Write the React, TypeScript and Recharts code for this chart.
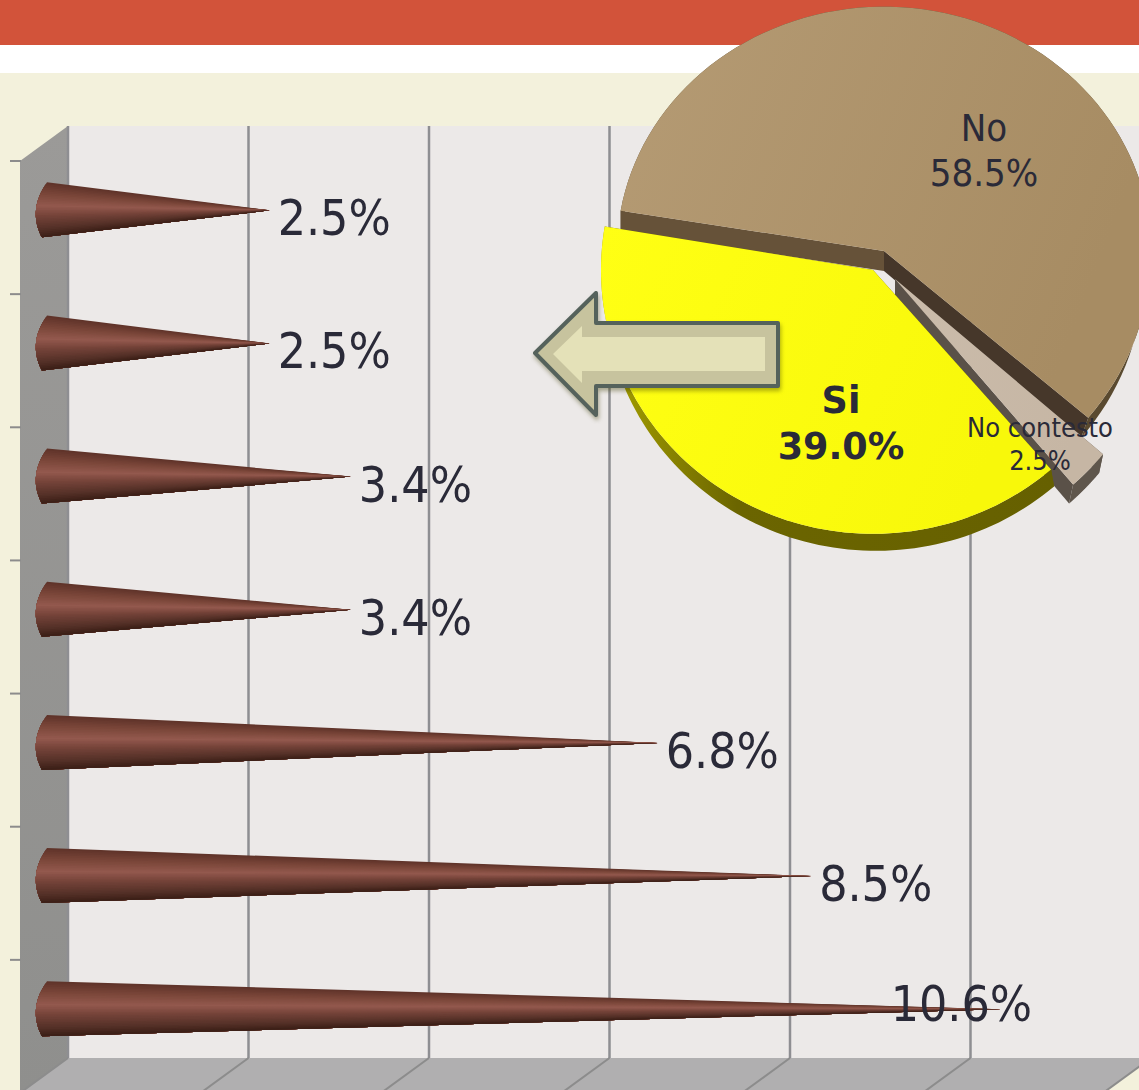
import React from 'react';
import { Bar, BarChart, CartesianGrid, LabelList, Pie, PieChart, XAxis, YAxis } from 'recharts';

const WIDTH = 1139;
const HEIGHT = 1090;
const FONT = '"DejaVu Sans Condensed", "DejaVu Sans", sans-serif';
const BOLD_FONT = '"DejaVu Sans", sans-serif';
const INK = '#2a2a38';

// horizontal cones, top row first
const rowIds = ['r1', 'r2', 'r3', 'r4', 'r5', 'r6', 'r7'];
const rowValues = [2.5, 2.5, 3.4, 3.4, 6.8, 8.5, 10.6];
const axisTicks = [0, 2, 4, 6, 8, 10, 12];

// pie, clockwise from the upper left
const sliceNames = ['No', 'No contesto', 'Si'];
const sliceValues = [58.5, 2.5, 39.0];

const rows = rowIds.map((id, i) => ({ id, value: rowValues[i] }));
const slices = sliceNames.map((name, i) => ({ name, value: sliceValues[i] }));

// 3D offset between the back wall and the front edge of the floor
const DEPTH_X = 48;
const DEPTH_Y = 35;
const PLOT_TOP = 126;
const PLOT_BOTTOM = 1058;
const PLOT_LEFT = 68;
const PLOT_RIGHT = 1151;

const coneStops: [number, number[]][] = [
  [0, [94, 51, 41]],
  [0.2, [122, 70, 57]],
  [0.42, [147, 89, 78]],
  [0.6, [118, 68, 58]],
  [0.85, [84, 48, 39]],
  [1, [58, 30, 22]],
];

function coneColor(t: number) {
  for (let i = 1; i < coneStops.length; i++) {
    const [t0, c0] = coneStops[i - 1];
    const [t1, c1] = coneStops[i];
    if (t <= t1) {
      const k = (t - t0) / (t1 - t0);
      const c = c0.map((v, j) => Math.round(v + (c1[j] - v) * k));
      return `rgb(${c.join(',')})`;
    }
  }
  return 'rgb(58,30,22)';
}

// cone lying on its side: a fan of thin triangles so the highlight runs into the tip
function Cone(props: any) {
  const { x, y, width, height } = props;
  const cy = y + height / 2 + DEPTH_Y / 2;
  const baseX = x - DEPTH_X / 2;
  const tipX = baseX + width;
  const p0 = [baseX + 3, cy - 28];
  const pc = [baseX - 16.5, cy];
  const p1 = [baseX - 2, cy + 27];
  const steps = 32;
  const at = (t: number) => [
    (1 - t) * (1 - t) * p0[0] + 2 * t * (1 - t) * pc[0] + t * t * p1[0],
    (1 - t) * (1 - t) * p0[1] + 2 * t * (1 - t) * pc[1] + t * t * p1[1],
  ];
  const fan = [];
  // each wedge runs down to the bottom edge and the next one paints over it, which leaves no seams
  for (let i = 0; i < steps; i++) {
    const base = [];
    for (let j = i; j <= steps; j++) {
      const p = at(j / steps);
      base.push(`${p[0]},${p[1]}`);
    }
    fan.push(
      <polygon key={i} points={`${tipX},${cy} ${base.join(' ')}`} fill={coneColor((i + 0.5) / steps)} />
    );
  }
  return <g>{fan}</g>;
}

function RowLabel(props: any) {
  const { x, y, width, height, value } = props;
  const cy = y + height / 2 + DEPTH_Y / 2;
  const tipX = x - DEPTH_X / 2 + width;
  // the longest cone has no room on its right, so its label sits over the tip
  const isLongest = value === Math.max(...rowValues);
  return (
    <text
      x={isLongest ? tipX - 110 : tipX + 8}
      y={isLongest ? cy + 12 : cy + 25}
      fontFamily={FONT}
      fontSize={49.5}
      fill={INK}
    >
      {`${value.toFixed(1)}%`}
    </text>
  );
}

function FloorTick({ x }: any) {
  return (
    <line x1={x} y1={PLOT_BOTTOM} x2={x - DEPTH_X} y2={PLOT_BOTTOM + DEPTH_Y} stroke="#8c8c8c" strokeWidth={2} />
  );
}

function RowTick({ y }: any) {
  const band = (PLOT_BOTTOM - PLOT_TOP) / rowIds.length;
  const ty = y - band / 2 + DEPTH_Y;
  return <line x1={10} y1={ty} x2={21} y2={ty} stroke="#8c8c8c" strokeWidth={2} />;
}

type SliceStyle = {
  dx: number;
  dy: number;
  rx: number;
  up: number;
  down: number;
  wallDx: number;
  depth: number;
  top: string;
  topEnd: string;
  arc: string;
  startWall: string;
  endWall: string;
  labelX: number;
  labelY: number;
  labelGap: number;
  fontSize: number;
  bold?: boolean;
};

const sliceStyles: Record<string, SliceStyle> = {
  No: {
    dx: 4, dy: -14, rx: 267, up: 0.915, down: 0.97, wallDx: -7, depth: 20,
    top: '#b59b74', topEnd: '#a78c63', arc: '#5a4a30', startWall: '#665239', endWall: '#46372a',
    labelX: 984, labelY: 141, labelGap: 45, fontSize: 38,
  },
  'No contesto': {
    dx: 15, dy: 14, rx: 272, up: 1, down: 1, wallDx: -4, depth: 19,
    top: '#cbbcab', topEnd: '#c6b6a4', arc: '#5f564c', startWall: '#5f564c', endWall: '#5a5148',
    labelX: 1040, labelY: 437, labelGap: 33, fontSize: 27,
  },
  Si: {
    dx: -7, dy: 5, rx: 272, up: 0.97, down: 0.97, wallDx: 3, depth: 17,
    top: '#ffff14', topEnd: '#f8f80a', arc: 'url(#si-wall)', startWall: '#666000', endWall: '#666000',
    labelX: 841, labelY: 413, labelGap: 46, fontSize: 36.5, bold: true,
  },
};

// pie seen slightly from above; each slice pulled out on its own
function Slice3D(props: any) {
  const { cx, cy, startAngle, endAngle, name, payload } = props;
  const key = name ?? payload?.name;
  const s = sliceStyles[key];
  const ox = cx + s.dx;
  const oy = cy + s.dy;
  const pt = (deg: number) => {
    const a = (deg * Math.PI) / 180;
    const sin = Math.sin(a);
    return [ox + s.rx * Math.cos(a), oy - s.rx * sin * (sin > 0 ? s.up : s.down)];
  };
  const n = 90;
  const arc = [];
  for (let i = 0; i <= n; i++) arc.push(pt(startAngle + ((endAngle - startAngle) * i) / n));
  const str = (pts: number[][]) => pts.map((p) => `${p[0]},${p[1]}`).join(' ');
  // a wall leaning left only leans on the right half, or it would stick out past the left rim
  const low = (p: number[]) => [p[0] + (s.wallDx < 0 && p[0] <= ox ? 0 : s.wallDx), p[1] + s.depth];
  const first = arc[0];
  const last = arc[n];
  const centre = [ox, oy];
  const gradId = `top-${key.replace(' ', '-')}`;
  return (
    <g>
      <defs>
        <linearGradient id={gradId} x1="0" y1="0" x2="1" y2="0.3">
          <stop offset="0" stopColor={s.top} />
          <stop offset="1" stopColor={s.topEnd} />
        </linearGradient>
        <linearGradient id="si-wall" x1="0" y1="0" x2="1" y2="0">
          <stop offset="0" stopColor="#a8a200" />
          <stop offset="0.3" stopColor="#6b6500" />
          <stop offset="1" stopColor="#666000" />
        </linearGradient>
      </defs>
      <polygon points={str([...arc, ...[...arc].reverse().map(low)])} fill={s.arc} />
      <polygon points={str([centre, first, low(first), low(centre)])} fill={s.startWall} />
      <polygon points={str([centre, last, low(last), low(centre)])} fill={s.endWall} />
      <polygon points={str([centre, ...arc])} fill={`url(#${gradId})`} />
    </g>
  );
}

function SliceLabel(props: any) {
  const { name, value } = props;
  const s = sliceStyles[name];
  const common = {
    x: s.labelX,
    textAnchor: 'middle' as const,
    fontFamily: s.bold ? BOLD_FONT : FONT,
    fontSize: s.fontSize,
    fontWeight: s.bold ? 700 : 400,
    fill: INK,
  };
  return (
    <g>
      <text {...common} y={s.labelY}>{name}</text>
      <text {...common} y={s.labelY + s.labelGap}>{`${value.toFixed(1)}%`}</text>
    </g>
  );
}

function BackWalls() {
  return (
    <svg width={WIDTH} height={HEIGHT} style={{ position: 'absolute', left: 0, top: 0 }}>
      <defs>
        <linearGradient id="side-wall" x1="0" y1="0" x2="0" y2="1">
          <stop offset="0" stopColor="#9b9a98" />
          <stop offset="1" stopColor="#8f8f8d" />
        </linearGradient>
      </defs>
      <rect width={WIDTH} height={45} fill="#d2533a" />
      <rect y={45} width={WIDTH} height={28} fill="#ffffff" />
      <rect y={73} width={WIDTH} height={HEIGHT - 73} fill="#f3f1dc" />
      <rect x={PLOT_LEFT} y={PLOT_TOP} width={PLOT_RIGHT - PLOT_LEFT} height={PLOT_BOTTOM - PLOT_TOP} fill="#ece9e8" />
      <polygon
        points={`${PLOT_LEFT},${PLOT_BOTTOM} ${PLOT_RIGHT},${PLOT_BOTTOM} ${PLOT_RIGHT - DEPTH_X},${PLOT_BOTTOM + DEPTH_Y} ${PLOT_LEFT - DEPTH_X},${PLOT_BOTTOM + DEPTH_Y}`}
        fill="#b0afb0"
      />
      <polygon
        points={`${PLOT_LEFT - DEPTH_X},${PLOT_TOP + DEPTH_Y} ${PLOT_LEFT},${PLOT_TOP} ${PLOT_LEFT},${PLOT_BOTTOM} ${PLOT_LEFT - DEPTH_X},${PLOT_BOTTOM + DEPTH_Y}`}
        fill="url(#side-wall)"
      />
    </svg>
  );
}

function LeftArrow() {
  return (
    <svg width={WIDTH} height={HEIGHT} style={{ position: 'absolute', left: 0, top: 0 }}>
      <polygon
        points="535,353 596,293 596,323 778,323 778,386 596,386 596,415"
        fill="#c7c39e"
        stroke="#55625c"
        strokeWidth={4}
        strokeLinejoin="round"
        style={{ filter: 'drop-shadow(1px 3px 2px rgba(60,60,0,0.4))' }}
      />
      <polygon points="553,354 582,326 582,337 765,337 765,371 582,371 582,383" fill="#e4e1b8" />
    </svg>
  );
}

export default function App() {
  return (
    <div style={{ position: 'absolute', left: 0, top: 0, width: WIDTH, height: HEIGHT, overflow: 'hidden' }}>
      <BackWalls />
      <div style={{ position: 'absolute', left: 0, top: 0 }}>
        <BarChart
          width={1200}
          height={HEIGHT}
          layout="vertical"
          data={rows}
          margin={{ top: PLOT_TOP, bottom: HEIGHT - PLOT_BOTTOM - 1, left: PLOT_LEFT - 1, right: 1200 - PLOT_RIGHT }}
        >
          <CartesianGrid horizontal={false} stroke="#8e8e92" strokeWidth={2.5} />
          <XAxis
            type="number"
            domain={[0, 12]}
            ticks={axisTicks}
            height={1}
            axisLine={false}
            tickLine={false}
            interval={0}
            tick={<FloorTick />}
          />
          <YAxis
            type="category"
            dataKey="id"
            width={1}
            axisLine={false}
            tickLine={false}
            interval={0}
            tick={<RowTick />}
          />
          <Bar dataKey="value" shape={<Cone />} isAnimationActive={false}>
            <LabelList dataKey="value" content={<RowLabel />} />
          </Bar>
        </BarChart>
      </div>
      <div style={{ position: 'absolute', left: 0, top: 0 }}>
        <PieChart width={WIDTH} height={HEIGHT} margin={{ top: 0, right: 0, bottom: 0, left: 0 }}>
          <Pie
            data={slices}
            dataKey="value"
            nameKey="name"
            cx={880}
            cy={265}
            outerRadius={270}
            startAngle={170.5}
            endAngle={-189.5}
            stroke="none"
            shape={<Slice3D />}
            label={<SliceLabel />}
            labelLine={false}
            isAnimationActive={false}
          />
        </PieChart>
      </div>
      <LeftArrow />
    </div>
  );
}
